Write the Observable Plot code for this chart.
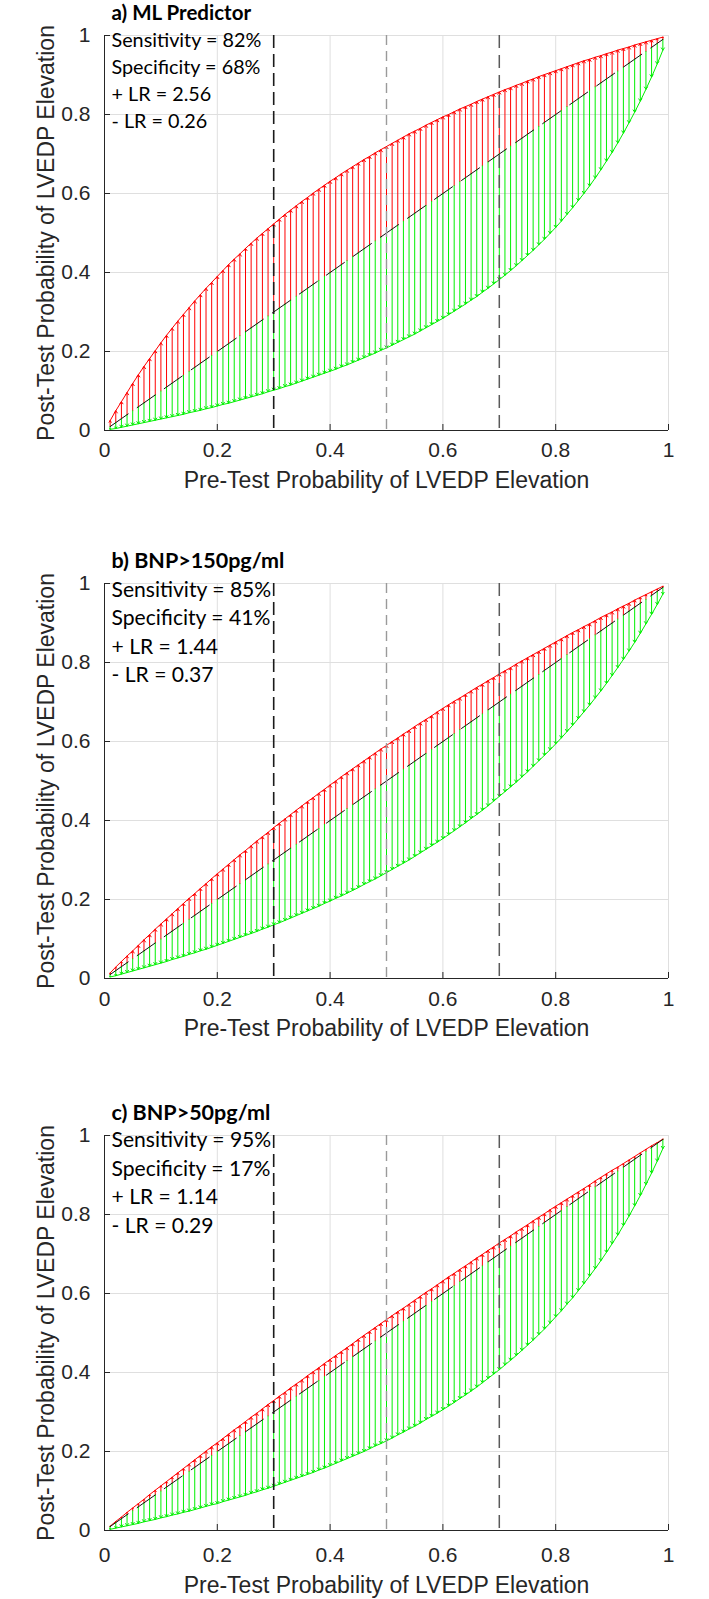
<!DOCTYPE html>
<html><head><meta charset="utf-8">
<script src="https://cdn.jsdelivr.net/npm/d3@7"></script>
<script src="https://cdn.jsdelivr.net/npm/@observablehq/plot@0.6"></script>
<style>
body{margin:0;background:#fff;}
#wrap{position:relative;width:709px;height:1599px;overflow:hidden;background:#fff;}
.panel{position:absolute;left:0;}
</style></head><body><div id="wrap"></div>
<script>
// Pre-test probability (x) of each arrow
const preTest = [0.01,0.02,0.03,0.04,0.05,0.06,0.07,0.08,0.09,0.10,
0.11,0.12,0.13,0.14,0.15,0.16,0.17,0.18,0.19,0.20,
0.21,0.22,0.23,0.24,0.25,0.26,0.27,0.28,0.29,0.30,
0.31,0.32,0.33,0.34,0.35,0.36,0.37,0.38,0.39,0.40,
0.41,0.42,0.43,0.44,0.45,0.46,0.47,0.48,0.49,0.50,
0.51,0.52,0.53,0.54,0.55,0.56,0.57,0.58,0.59,0.60,
0.61,0.62,0.63,0.64,0.65,0.66,0.67,0.68,0.69,0.70,
0.71,0.72,0.73,0.74,0.75,0.76,0.77,0.78,0.79,0.80,
0.81,0.82,0.83,0.84,0.85,0.86,0.87,0.88,0.89,0.90,
0.91,0.92,0.93,0.94,0.95,0.96,0.97,0.98,0.99];

// a) ML Predictor: post-test probability after a positive / negative test
const mlPos = [.025,.050,.073,.096,.119,.141,.162,.182,.202,.222,
.241,.259,.277,.294,.311,.328,.344,.360,.375,.390,
.405,.420,.434,.447,.461,.474,.487,.499,.511,.523,
.535,.547,.558,.569,.580,.590,.601,.611,.621,.631,
.640,.650,.659,.668,.677,.686,.694,.703,.711,.719,
.727,.735,.743,.751,.758,.765,.773,.780,.787,.794,
.800,.807,.814,.820,.826,.833,.839,.845,.851,.857,
.863,.868,.874,.879,.885,.890,.896,.901,.906,.911,
.916,.921,.926,.931,.936,.940,.945,.949,.954,.958,
.963,.967,.971,.976,.980,.984,.988,.992,.996];
const mlNeg = [.003,.005,.008,.011,.014,.017,.020,.023,.026,.029,
.032,.035,.038,.041,.045,.048,.051,.055,.058,.062,
.066,.069,.073,.077,.081,.085,.089,.093,.098,.102,
.106,.111,.115,.120,.125,.130,.135,.140,.145,.150,
.155,.161,.166,.172,.178,.184,.190,.196,.203,.209,
.216,.223,.230,.237,.244,.252,.260,.268,.276,.284,
.293,.302,.311,.320,.330,.339,.350,.360,.371,.382,
.393,.405,.417,.430,.443,.456,.470,.484,.499,.514,
.530,.547,.564,.582,.600,.619,.639,.660,.682,.704,
.728,.753,.779,.806,.834,.864,.895,.928,.963];

// b) BNP>150pg/ml
const bnp150Pos = [.014,.029,.043,.057,.070,.084,.098,.111,.125,.138,
.151,.164,.177,.190,.203,.215,.228,.240,.253,.265,
.277,.289,.301,.313,.324,.336,.348,.359,.370,.382,
.393,.404,.415,.426,.437,.448,.458,.469,.479,.490,
.500,.511,.521,.531,.541,.551,.561,.571,.581,.590,
.600,.609,.619,.628,.638,.647,.656,.665,.675,.684,
.693,.702,.710,.719,.728,.737,.745,.754,.762,.771,
.779,.787,.796,.804,.812,.820,.828,.836,.844,.852,
.860,.868,.876,.883,.891,.898,.906,.914,.921,.928,
.936,.943,.950,.958,.965,.972,.979,.986,.993];
const bnp150Neg = [.004,.007,.011,.015,.019,.023,.027,.031,.035,.039,
.043,.048,.052,.056,.061,.065,.070,.074,.079,.084,
.089,.094,.099,.104,.109,.114,.119,.125,.130,.136,
.141,.147,.153,.159,.165,.171,.177,.183,.190,.196,
.203,.209,.216,.223,.230,.238,.245,.252,.260,.268,
.276,.284,.292,.300,.309,.318,.327,.336,.345,.354,
.364,.374,.384,.394,.405,.415,.426,.437,.449,.461,
.473,.485,.497,.510,.523,.537,.551,.565,.579,.594,
.609,.625,.641,.658,.675,.692,.710,.728,.747,.767,
.787,.808,.829,.851,.874,.898,.922,.947,.973];

// c) BNP>50pg/ml
const bnp50Pos = [.011,.023,.034,.046,.057,.068,.079,.091,.102,.113,
.124,.135,.146,.157,.168,.179,.190,.201,.212,.222,
.233,.244,.255,.265,.276,.287,.297,.308,.319,.329,
.340,.350,.361,.371,.381,.392,.402,.412,.423,.433,
.443,.453,.463,.473,.484,.494,.504,.514,.524,.534,
.544,.554,.563,.573,.583,.593,.603,.612,.622,.632,
.642,.651,.661,.670,.680,.690,.699,.709,.718,.728,
.737,.746,.756,.765,.774,.784,.793,.802,.812,.821,
.830,.839,.848,.857,.866,.875,.885,.894,.903,.912,
.920,.929,.938,.947,.956,.965,.974,.982,.991];
const bnp50Neg = [.003,.006,.009,.012,.015,.018,.022,.025,.028,.032,
.035,.039,.042,.046,.049,.053,.057,.061,.065,.068,
.073,.077,.081,.085,.089,.094,.098,.103,.107,.112,
.117,.122,.127,.132,.137,.142,.147,.153,.158,.164,
.170,.176,.182,.188,.194,.200,.207,.214,.220,.227,
.234,.242,.249,.257,.264,.272,.281,.289,.297,.306,
.315,.324,.334,.343,.353,.363,.374,.385,.396,.407,
.419,.431,.443,.456,.469,.482,.496,.510,.525,.541,
.556,.573,.589,.607,.625,.644,.663,.683,.704,.726,
.748,.772,.796,.822,.848,.876,.905,.935,.967];

const panelTitles = ["a) ML Predictor", "b) BNP>150pg/ml", "c) BNP>50pg/ml"];
const panelStats = [
  ["Sensitivity = 82%", "Specificity = 68%", "+ LR = 2.56", "- LR = 0.26"],
  ["Sensitivity = 85%", "Specificity = 41%", "+ LR = 1.44", "- LR = 0.37"],
  ["Sensitivity = 95%", "Specificity = 17%", "+ LR = 1.14", "- LR = 0.29"]
];
const posSeries = [mlPos, bnp150Pos, bnp50Pos];
const negSeries = [mlNeg, bnp150Neg, bnp50Neg];
const ticks = [0, 0.2, 0.4, 0.6, 0.8, 1];
const tickLabels = ["0", "0.2", "0.4", "0.6", "0.8", "1"];
const refLines = [0.3, 0.5, 0.7];
const xLabel = "Pre-Test Probability of LVEDP Elevation";
const yLabel = "Post-Test Probability of LVEDP Elevation";

// layout
const W = 709, H = 499, mL = 104, mR = 41, mT = 35, mB = 69;
const plotW = W - mL - mR, plotH = H - mT - mB;
const panelTops = [0, 548, 1100];
const statsSize = [19.8, 21.1, 21.1];
const statsLH = [1.36, 1.35, 1.36];
const statsDy = [-7.5, -7, -9];
const titleSize = [20.5, 21.5, 21.5];
const tickPad = [12, 13, 17];
const labelDy = [50, 50, 55];
const axisColor = "#262626";
const refStyles = [
  {stroke: "#1a1a1a", strokeWidth: 1.6, strokeDasharray: "13,6"},
  {stroke: "#9a9a9a", strokeWidth: 1.4, strokeDasharray: "10,6"},
  {stroke: "#5a5a5a", strokeWidth: 1.5, strokeDasharray: "13,7"}
];
const fmt = d => tickLabels[ticks.indexOf(d)];
const wrap = document.getElementById("wrap");

panelTitles.forEach((title, k) => {
  const rows = preTest.map((p, i) => ({p, pos: posSeries[k][i], neg: negSeries[k][i]}));
  const svg = Plot.plot({
    width: W, height: H,
    marginLeft: mL, marginRight: mR, marginTop: mT, marginBottom: mB,
    x: {domain: [0, 1], label: null},
    y: {domain: [0, 1], label: null},
    style: {fontFamily: "'Liberation Sans', Arial, sans-serif", background: "#fff", overflow: "visible"},
    marks: [
      Plot.ruleX(ticks, {x: d => d, stroke: "#dfdfdf", strokeWidth: 1}),
      Plot.ruleY(ticks, {y: d => d, stroke: "#dfdfdf", strokeWidth: 1}),
      Plot.arrow(rows, {x1: "p", y1: "p", x2: "p", y2: "pos", stroke: "#ff0000", strokeWidth: 1, headLength: 4, headAngle: 70}),
      Plot.arrow(rows, {x1: "p", y1: "p", x2: "p", y2: "neg", stroke: "#00f000", strokeWidth: 1, headLength: 4, headAngle: 70}),
      Plot.line(rows, {x: "p", y: "pos", stroke: "#ff0000", strokeWidth: 1}),
      Plot.line(rows, {x: "p", y: "neg", stroke: "#00f000", strokeWidth: 1}),
      Plot.line(rows, {x: "p", y: "p", stroke: "#111", strokeWidth: 1, strokeDasharray: "22,11"}),
      ...refLines.map((v, i) => Plot.ruleX([v], {x: d => d, ...refStyles[i]})),
      Plot.ruleY([0], {stroke: axisColor, strokeWidth: 1}),
      Plot.ruleX([0], {stroke: axisColor, strokeWidth: 1}),
      Plot.tickX(ticks, {x: d => d, stroke: axisColor, insetTop: plotH - 6}),
      Plot.tickY(ticks, {y: d => d, stroke: axisColor, insetRight: plotW - 6}),
      Plot.axisX(ticks, {tickSize: 0, tickPadding: tickPad[k], tickFormat: fmt, fontSize: 21, color: axisColor, label: null}),
      Plot.axisY(ticks, {tickSize: 0, tickPadding: 14, tickFormat: fmt, fontSize: 21, color: axisColor, label: null}),
      Plot.text([xLabel], {text: d => d, frameAnchor: "bottom", dy: labelDy[k], fontSize: 23, fill: axisColor, lineAnchor: "middle", textAnchor: "middle"}),
      Plot.text([yLabel], {text: d => d, frameAnchor: "left", dx: -58, rotate: -90, fontSize: 23, fill: axisColor, lineAnchor: "middle", textAnchor: "middle"}),
      Plot.text([title], {text: d => d, frameAnchor: "top-left", dx: 7, dy: -22, textAnchor: "start", lineAnchor: "middle",
        fontFamily: "Lato, sans-serif", fontWeight: "bold", fontSize: titleSize[k], fill: "#000"}),
      Plot.text([panelStats[k].join("\n")], {text: d => d, frameAnchor: "top-left", dx: 7, dy: statsDy[k], textAnchor: "start", lineAnchor: "top",
        lineHeight: statsLH[k], fontFamily: "Lato, sans-serif", fontSize: statsSize[k], fill: "#000"})
    ]
  });
  svg.classList.add("panel");
  svg.style.top = panelTops[k] + "px";
  wrap.appendChild(svg);
});
</script></body></html>
